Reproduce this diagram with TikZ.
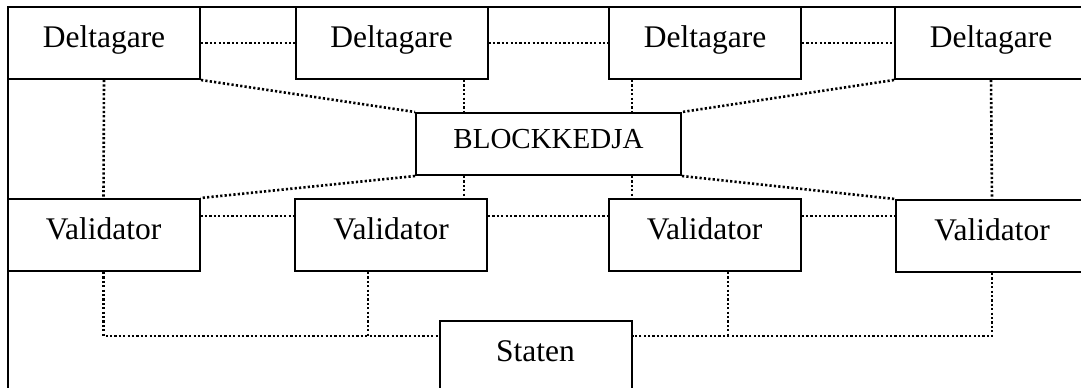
\documentclass[tikz,border=0pt]{standalone}
\usepackage{fontspec}
\setmainfont{Liberation Serif}
\usetikzlibrary{calc}
\begin{document}
\begin{tikzpicture}[x=0.5pt,y=-0.5pt,
  box/.style={draw,line width=1pt,fill=white,inner sep=0pt,
    text height=0.683em,text depth=0.217em,font=\fontsize{15.75pt}{18pt}\selectfont},
  wide/.style={minimum width=96pt,minimum height=36pt},
  chain/.style={minimum width=132.5pt,minimum height=31pt,font=\fontsize{14.5pt}{17pt}\selectfont},
  link/.style={line width=1.3pt,dash pattern=on 1.1pt off 1.1pt},
  frame/.style={line width=1pt}]
\useasboundingbox (0,0) rectangle (1081,387);
\clip (0,0) rectangle (1081,387);
\draw[frame] (8,420) -- (8,7) -- (1120,7);
% coordinates for off-centre connectors
\coordinate (c1) at (464,0);
\coordinate (c2) at (632,0);
\coordinate (c3) at (368,0);
\coordinate (c4) at (728,0);
\coordinate (row) at (0,216);
\coordinate (bus) at (0,336);
% nodes
\node[box,wide] (D1) at (104,43) {Deltagare};
\node[box,wide] (D2) at (391.5,43) {Deltagare};
\node[box,wide] (D3) at (705,43) {Deltagare};
\node[box,wide] (D4) at (991,43) {Deltagare};
\node[box,chain] (B) at (548.5,144) {BLOCKKEDJA};
\node[box,wide] (V1) at (103.5,235) {Validator};
\node[box,wide] (V2) at (391,235) {Validator};
\node[box,wide] (V3) at (704.5,235) {Validator};
\node[box,wide] (V4) at (992,236) {Validator};
\node[box,wide] (S) at (535.5,357) {Staten};
% top row links
\draw[link] (D1.east) -- (D2.west);
\draw[link] (D2.east) -- (D3.west);
\draw[link] (D3.east) -- (D4.west);
% verticals
\draw[link] (D1.south) -- (V1.north);
\draw[link] (D4.south) -- (V4.north);
\draw[link] (c1 |- D2.south) -- (c1 |- B.north);
\draw[link] (c2 |- D3.south) -- (c2 |- B.north);
\draw[link] (c1 |- B.south) -- (c1 |- V2.north);
\draw[link] (c2 |- B.south) -- (c2 |- V3.north);
% diagonals
\draw[link] (D1.south east) -- (B.north west);
\draw[link] (D4.south west) -- (B.north east);
\draw[link] (B.south west) -- (V1.north east);
\draw[link] (B.south east) -- (V4.north west);
% validator row links
\draw[link] (V1.east |- row) -- (V2.west |- row);
\draw[link] (V2.east |- row) -- (V3.west |- row);
\draw[link] (V3.east |- row) -- (V4.west |- row);
% bus to Staten
\draw[link] (V1.south) |- (bus -| S.west);
\draw[link] (V4.south) |- (bus -| S.east);
\draw[link] (c3 |- V2.south) -- (c3 |- bus);
\draw[link] (c4 |- V3.south) -- (c4 |- bus);
\end{tikzpicture}
\end{document}
